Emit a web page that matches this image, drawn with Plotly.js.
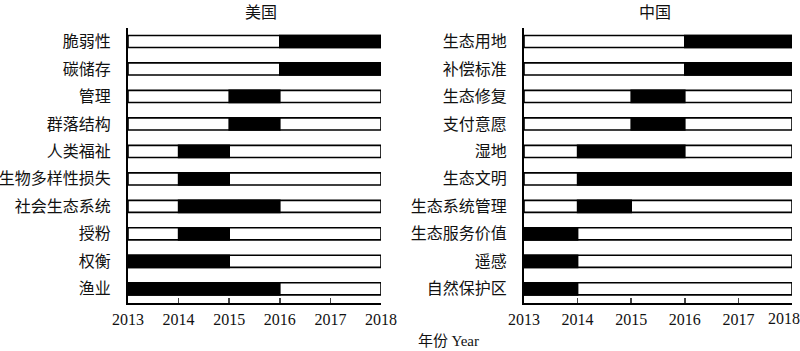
<!DOCTYPE html>
<html><head><meta charset="utf-8">
<script src="https://cdn.plot.ly/plotly-3.0.1.min.js"></script>
<style>body{margin:0;background:#fff}#c{width:800px;height:351px}</style>
</head><body><div id="c"></div>
<script>
const usTerms = ["脆弱性","碳储存","管理","群落结构","人类福祉","生物多样性损失","社会生态系统","授粉","权衡","渔业"];
const usStart = [2016,2016,2015,2015,2014,2014,2014,2014,2013,2013];
const usEnd   = [2018,2018,2016,2016,2015,2015,2016,2015,2015,2016];
const cnTerms = ["生态用地","补偿标准","生态修复","支付意愿","湿地","生态文明","生态系统管理","生态服务价值","遥感","自然保护区"];
const cnStart = [2016,2016,2015,2015,2014,2014,2014,2013,2013,2013];
const cnEnd   = [2018,2018,2016,2016,2016,2018,2015,2014,2014,2014];
const yearMin = 2013, yearMax = 2018;
const yearTicks = [2013,2014,2015,2016,2017,2018];

const cjk = '"Noto Sans CJK SC", sans-serif';
const serif = '"Liberation Serif", "Times New Roman", serif';
const bw = 0.44;
const W = 792; // plot-area width (margin r = 8)

function panel(terms, s, e, xa, ya) {
  return [
    {type:'bar', orientation:'h', y:terms, x:terms.map(()=>yearMax-yearMin), base:terms.map(()=>yearMin),
     xaxis:xa, yaxis:ya, width:bw, marker:{color:'#fff', line:{color:'#000', width:1.6}}, hoverinfo:'skip'},
    {type:'bar', orientation:'h', y:terms, x:e.map((v,i)=>v-s[i]), base:s,
     xaxis:xa, yaxis:ya, width:bw, marker:{color:'#000', line:{color:'#000', width:1.6}}, hoverinfo:'skip'}
  ];
}
const data = [...panel(usTerms, usStart, usEnd, 'x', 'y'), ...panel(cnTerms, cnStart, cnEnd, 'x2', 'y2')];

const tickFont = {family:serif, size:16, color:'#111'};
const xBase = {range:[yearMin, yearMax], tickvals:yearTicks, ticks:'inside', ticklen:5, tickwidth:1.5,
  showline:true, linecolor:'#000', linewidth:2, showgrid:false, zeroline:false, ticklabeloverflow:'allow',
  tickfont:tickFont, ticklabelstandoff:1};
const yBase = {type:'category', autorange:false, range:[9.5,-0.5], showline:true, linecolor:'#000', linewidth:2,
  showgrid:false, ticks:'', tickfont:{family:cjk, size:16, color:'#111'}, ticklabelstandoff:12};

// right panel: last year label drawn slightly inward so it stays inside the picture
const rightText = yearTicks.map((v,i)=> i===yearTicks.length-1 ? '' : String(v));

const layout = {
  width:800, height:351, margin:{l:0, r:8, t:0, b:0},
  paper_bgcolor:'#fff', plot_bgcolor:'rgba(0,0,0,0)', showlegend:false, barmode:'overlay',
  xaxis:Object.assign({}, xBase, {domain:[128/W, 381/W], anchor:'y'}),
  yaxis:Object.assign({}, yBase, {domain:[0.138, 0.921], anchor:'x'}),
  xaxis2:Object.assign({}, xBase, {domain:[524/W, 1], anchor:'y2', ticktext:rightText}),
  yaxis2:Object.assign({}, yBase, {domain:[0.138, 0.921], anchor:'x2'}),
  annotations:[
    {text:'美国', x:261/W, y:1-11/351, xref:'paper', yref:'paper', xanchor:'center', yanchor:'middle', showarrow:false, font:{family:cjk, size:16, color:'#111'}},
    {text:'中国', x:655/W, y:1-11/351, xref:'paper', yref:'paper', xanchor:'center', yanchor:'middle', showarrow:false, font:{family:cjk, size:16, color:'#111'}},
    {text:String(yearTicks[yearTicks.length-1]), x:784/W, y:1-318/351, xref:'paper', yref:'paper', xanchor:'center', yanchor:'middle', showarrow:false, font:tickFont},
    {text:'年份 <span style="font-family:Liberation Serif">Year</span>', x:448/W, y:1-339/351, xref:'paper', yref:'paper', xanchor:'center', yanchor:'middle', showarrow:false, font:{family:cjk, size:15, color:'#111'}}
  ]
};
Plotly.newPlot('c', data, layout, {staticPlot:true});
</script></body></html>
